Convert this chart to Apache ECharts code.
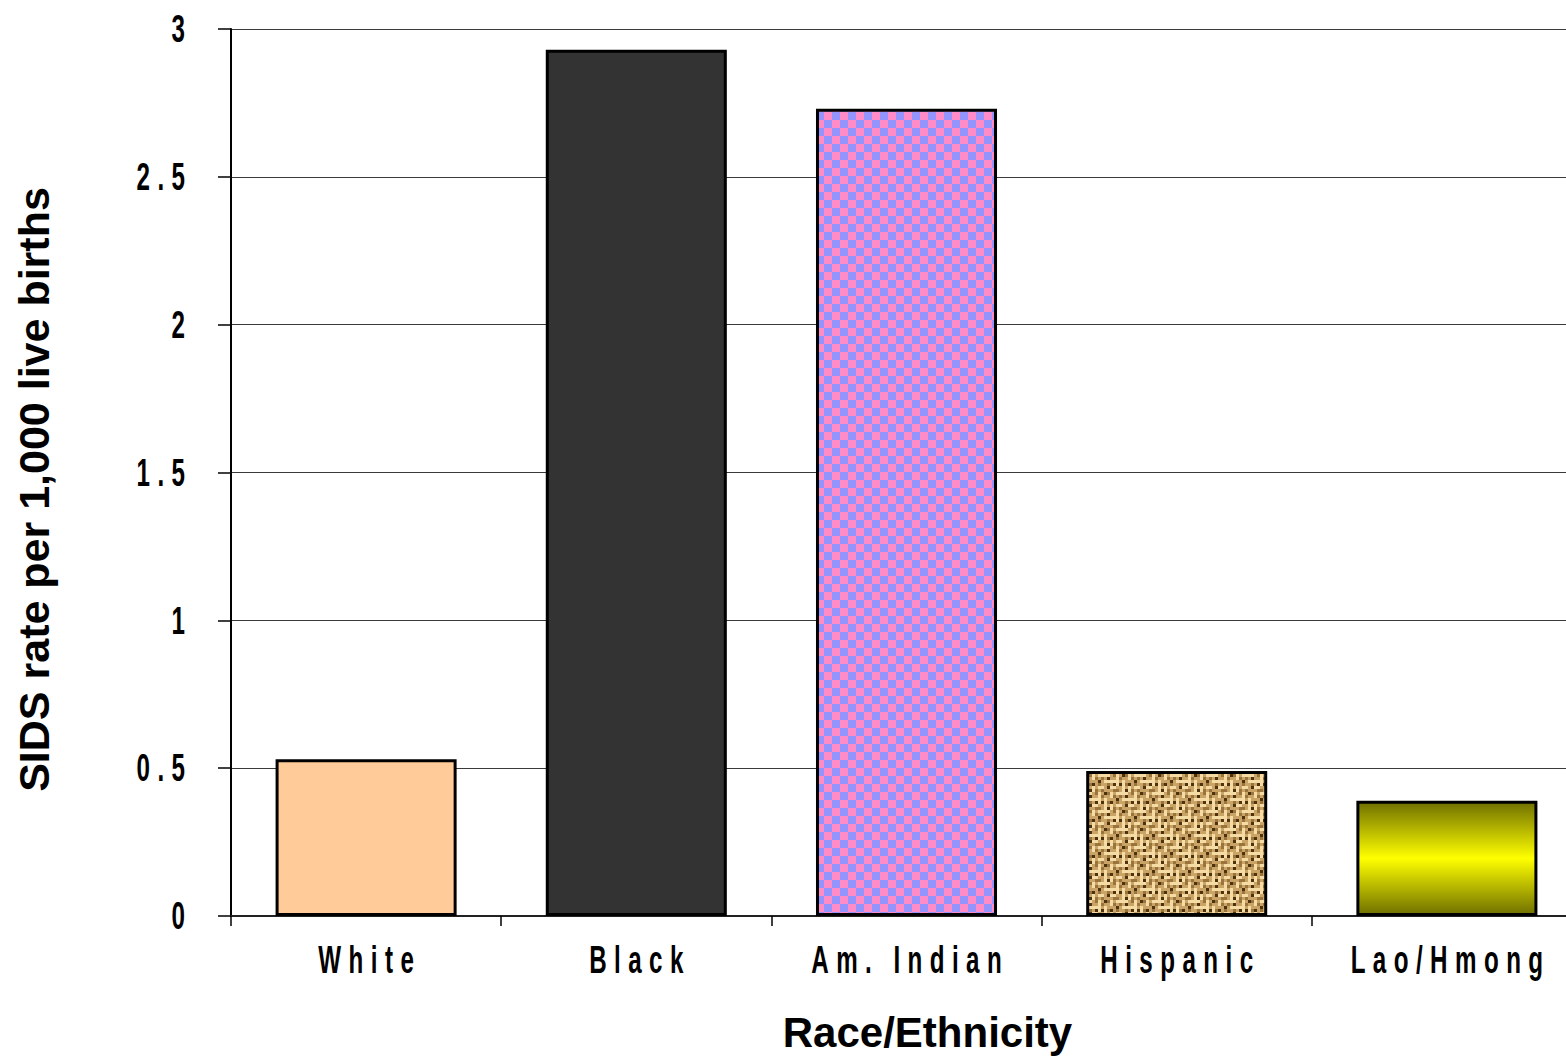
<!DOCTYPE html>
<html>
<head>
<meta charset="utf-8">
<script src="https://cdn.jsdelivr.net/npm/echarts@6/dist/echarts.min.js"></script>
<style>
  html, body { margin: 0; padding: 0; background: #ffffff; }
  #chart { width: 1566px; height: 1056px; }
</style>
</head>
<body>
<div id="chart"></div>
<script>
// SIDS rate per 1,000 live births, by race/ethnicity
const categories = ['White', 'Black', 'Am. Indian', 'Hispanic', 'Lao/Hmong'];
const sidsRates = [0.53, 2.93, 2.73, 0.49, 0.39];
const yTicks = [0, 0.5, 1, 1.5, 2, 2.5, 3];

const xAxisTitle = 'Race/Ethnicity';
const yAxisTitle = 'SIDS rate per 1,000 live births';

// ---- fill patterns -------------------------------------------------------
function makeTile(w, h, draw) {
  const c = document.createElement('canvas');
  c.width = w; c.height = h;
  draw(c.getContext('2d'));
  return c;
}

// pink / blue checkerboard
const checkerTile = makeTile(16, 16, ctx => {
  ctx.fillStyle = '#ff8cc6'; ctx.fillRect(0, 0, 16, 16);
  ctx.fillStyle = '#9494ff';
  ctx.fillRect(0, 0, 8, 8); ctx.fillRect(8, 8, 8, 8);
});

// basket-weave burlap: a horizontal block and its transpose, in a 2x2 tile
const weaveBlock = [
  'LLLLAM',
  'AMADAA',
  'DALLLL',
  'MAAMAD',
  'LLADLL',
  'AMAAAM'
];
const weaveColors = { L: '#f4dca4', A: '#c9a466', M: '#9a743d', D: '#4d3210' };
const CELL = 3;
const weaveTile = makeTile(12 * CELL, 12 * CELL, ctx => {
  const n = weaveBlock.length;
  for (let br = 0; br < 2; br++) {
    for (let bc = 0; bc < 2; bc++) {
      const vertical = (br + bc) % 2 === 1;
      for (let r = 0; r < n; r++) {
        for (let c = 0; c < n; c++) {
          const key = vertical ? weaveBlock[c][r] : weaveBlock[r][c];
          ctx.fillStyle = weaveColors[key];
          ctx.fillRect((bc * n + c) * CELL, (br * n + r) * CELL, CELL, CELL);
        }
      }
    }
  }
});

const barFills = [
  '#ffcc99',
  '#333333',
  { image: checkerTile, repeat: 'repeat' },
  { image: weaveTile, repeat: 'repeat' },
  {
    type: 'linear', x: 0, y: 0, x2: 0, y2: 1,
    colorStops: [
      { offset: 0, color: '#707000' },
      { offset: 0.5, color: '#ffff00' },
      { offset: 1, color: '#707000' }
    ]
  }
];

// ---- chart ---------------------------------------------------------------
const tickFont = 'Liberation Sans, Arial, sans-serif';
const titleFont = 'Liberation Sans, Arial, sans-serif';
const formatTick = v => String(v);

const chart = echarts.init(document.getElementById('chart'), null, { renderer: 'svg' });

chart.setOption({
  animation: false,
  backgroundColor: '#ffffff',
  grid: { left: 231, top: 29, width: 1351, height: 887,
          containLabel: false, outerBoundsMode: 'none' },
  xAxis: {
    type: 'category',
    data: categories,
    boundaryGap: true,
    axisLine: { show: true, lineStyle: { color: '#222', width: 2 } },
    axisTick: { show: true, inside: false, length: 10, alignWithLabel: false, interval: 0,
                lineStyle: { color: '#000', width: 1.5 } },
    axisLabel: { interval: 0, margin: 24, color: '#000', fontFamily: tickFont,
                 fontWeight: 'bold', fontSize: 39 },
    name: xAxisTitle,
    nameLocation: 'middle',
    nameGap: 95,
    nameTextStyle: { color: '#000', fontFamily: titleFont, fontWeight: 'bold', fontSize: 42,
                     padding: [0, 0, 0, 42] }
  },
  yAxis: {
    type: 'value',
    min: yTicks[0],
    max: yTicks[yTicks.length - 1],
    interval: yTicks[1] - yTicks[0],
    axisLine: { show: true, lineStyle: { color: '#000', width: 2 } },
    axisTick: { show: true, inside: false, length: 13, lineStyle: { color: '#000', width: 1.5 } },
    splitLine: { show: true, lineStyle: { color: '#3a3a3a', width: 1 } },
    axisLabel: { margin: 46, color: '#000', fontFamily: tickFont, fontWeight: 'bold',
                 fontSize: 39, formatter: formatTick },
    name: yAxisTitle,
    nameLocation: 'middle',
    nameGap: 176,
    nameRotate: 90,
    nameTextStyle: { color: '#000', fontFamily: titleFont, fontWeight: 'bold', fontSize: 43,
                     padding: [0, 34, 0, 0] }
  },
  series: [{
    type: 'bar',
    silent: true,
    barCategoryGap: '33%',
    data: sidsRates.map((v, i) => ({
      value: v,
      itemStyle: { color: barFills[i], borderColor: '#000', borderWidth: 3 }
    }))
  }]
});

// Tick labels are set in a tall, narrow, letter-spaced face: condense them
// horizontally around their anchor once the SVG is in place.
const LETTER_SPACING = 12;
const SCALE_X = 0.62;
let condensed = false;
function condenseTickLabels() {
  if (condensed) return;
  const svg = chart.getDom().querySelector('svg');
  if (!svg) return;
  condensed = true;
  const svgNS = 'http://www.w3.org/2000/svg';
  const box = svg.getBoundingClientRect();
  const xSet = new Set(categories);
  const ySet = new Set(yTicks.map(formatTick));
  Array.from(svg.querySelectorAll('text')).forEach(t => {
    const s = t.textContent;
    const isX = xSet.has(s), isY = ySet.has(s);
    if (!isX && !isY) return;
    t.setAttribute('letter-spacing', LETTER_SPACING);
    const r = t.getBoundingClientRect();
    const ax = isX ? (r.left + r.right) / 2 - box.left : r.right - box.left;
    const dx = isX ? LETTER_SPACING * SCALE_X / 2 : LETTER_SPACING * SCALE_X;
    const g = document.createElementNS(svgNS, 'g');
    g.setAttribute('transform',
      'translate(' + (ax + dx) + ' 0) scale(' + SCALE_X + ' 1) translate(' + (-ax) + ' 0)');
    t.parentNode.insertBefore(g, t);
    g.appendChild(t);
  });
}
chart.on('finished', condenseTickLabels);
setTimeout(condenseTickLabels, 200);
</script>
</body>
</html>
